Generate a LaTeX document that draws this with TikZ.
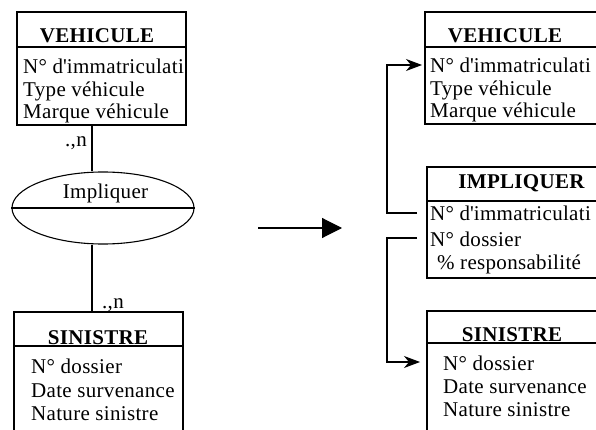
\documentclass[tikz,border=0pt]{standalone}
\usepackage{fontspec}
\setmainfont{Liberation Serif}[LetterSpace=1.5]
\usetikzlibrary{arrows.meta,shapes.geometric}

\begin{document}
\begin{tikzpicture}[x=1pt,y=-1pt,
  every node/.style={font=\fontsize{21}{24}\selectfont},
  box/.style={draw, line width=1.1pt, inner sep=0pt, rectangle},
  ttl/.style={anchor=base, inner sep=0pt, font=\fontsize{21}{24}\selectfont\bfseries},
  attr/.style={anchor=base west, inner sep=0pt, text height=16pt, text depth=0pt},
  card/.style={inner sep=0pt},
  lnk/.style={line width=1.1pt},
  fk/.style={lnk, -{Stealth[length=16pt,width=12pt,inset=5pt]}}
]
\useasboundingbox (0,0) rectangle (596,430);
\clip (0,0) rectangle (596,430);

% ---------- conceptual model (left) ----------
\node[box, minimum width=169pt, minimum height=113pt] (lveh) at (101.5,68.5) {};
\draw[lnk] (lveh.west |- 0,47) -- (lveh.east |- 0,47);
\node[ttl] (lvehT) at (97,43) {VEHICULE};
\node[attr] (lvImm)  at (23,74)  {N° d\textquotesingle immatriculati};
\node[attr] (lvType) at (23,96.5) {Type véhicule};
\node[attr] (lvMarq) at (23,119) {Marque véhicule};

\node[draw, lnk, ellipse, minimum width=182pt, minimum height=72pt, inner sep=0pt] (rel) at (103,208) {};
\draw[lnk] (rel.west) -- (rel.east);
\node[anchor=base, inner sep=0pt] (relT) at (105.5,199) {Impliquer};

\node[box, minimum width=169pt, minimum height=128pt] (lsin) at (98.5,376) {};
\draw[lnk] (lsin.west |- 0,346) -- (lsin.east |- 0,346);
\node[ttl] (lsinT) at (98,344) {SINISTRE};
\node[attr] (lsDos)  at (31,373) {N° dossier};
\node[attr] (lsDate) at (31,397) {Date survenance};
\node[attr] (lsNat)  at (31,420) {Nature sinistre};

\draw[lnk] ([xshift=-9.5pt]lveh.south) -- ([xshift=-11pt]rel.north);
\draw[lnk] ([xshift=-11pt]rel.south) -- ([xshift=-6.5pt]lsin.north);
\node[card, anchor=base east] (c1) at (87,147) {.,n};
\node[card, anchor=base west] (c2) at (102,308) {.,n};

% ---------- transformation arrow ----------
\coordinate (ms) at (258,228);
\coordinate (me) at (342,228);
\draw[lnk, -{Triangle[length=20pt,width=20pt]}] (ms) -- (me);

% ---------- relational model (right) ----------
\node[box, minimum width=185pt, minimum height=112pt] (rveh) at (517.5,68) {};
\draw[lnk] (rveh.west |- 0,47) -- (rveh.east |- 0,47);
\node[ttl] (rvehT) at (505,43) {VEHICULE};
\node[attr] (vImm)  at (430,73) {N° d\textquotesingle immatriculati};
\node[attr] (vType) at (430,95.5) {Type véhicule};
\node[attr] (vMarq) at (430,118) {Marque véhicule};

\node[box, minimum width=183pt, minimum height=111pt] (rimp) at (518.5,222.5) {};
\draw[lnk] (rimp.west |- 0,201) -- (rimp.east |- 0,201);
\node[ttl] (rimpT) at (521.5,189) {IMPLIQUER};
\node[attr] (iImm) at (430,221) {N° d\textquotesingle immatriculati};
\node[attr] (iDos) at (430,246) {N° dossier};
\node[attr] (iRes) at (437,269) {\% responsabilité};

\node[box, minimum width=183pt, minimum height=129pt] (rsin) at (518.5,375.5) {};
\draw[lnk] (rsin.west |- 0,343) -- (rsin.east |- 0,343);
\node[ttl] (rsinT) at (512,341) {SINISTRE};
\node[attr] (sDos)  at (443,370) {N° dossier};
\node[attr] (sDate) at (443,393) {Date survenance};
\node[attr] (sNat)  at (443,416) {Nature sinistre};

% foreign keys
\draw[fk, shorten >=8pt] ([xshift=-13pt]iImm.west) -- ++(-30,0) |- (vImm.west);
\draw[fk, shorten >=23pt] ([xshift=-13pt]iDos.west) -- ++(-30,0) |- (sDos.west);
\end{tikzpicture}
\end{document}
